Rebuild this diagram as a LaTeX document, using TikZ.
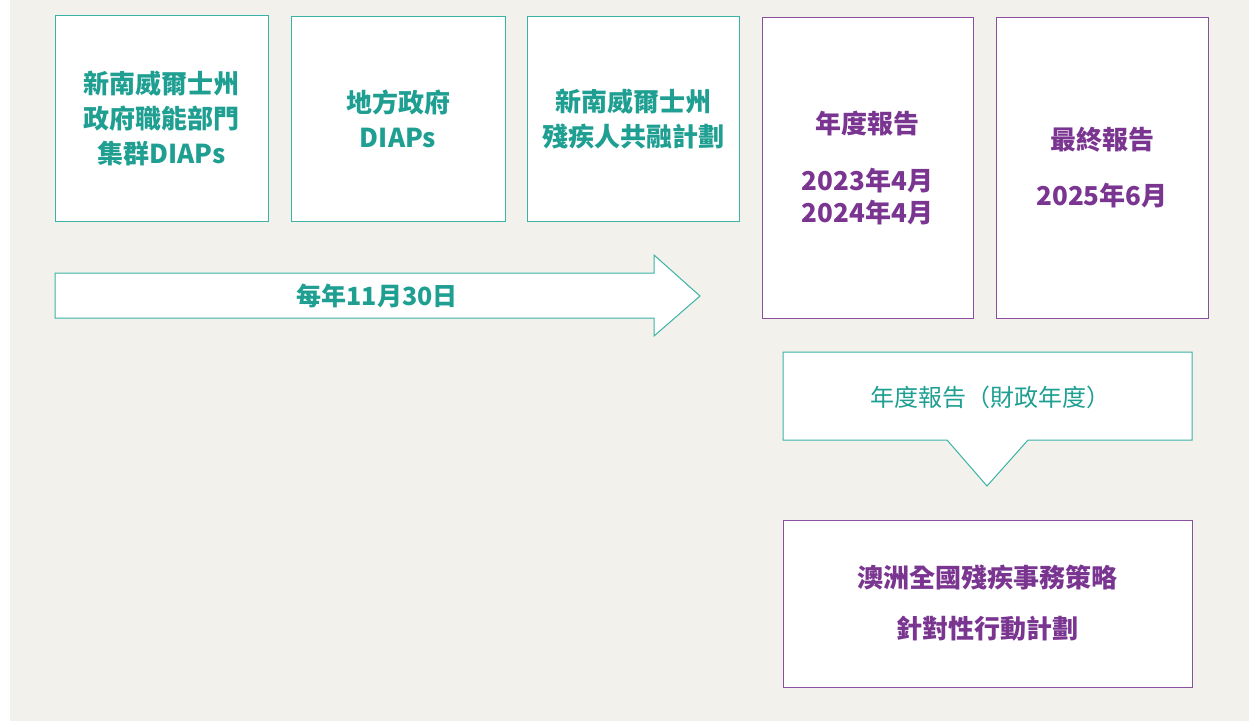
\documentclass[tikz,border=0pt]{standalone}
\usepackage{fontspec}
\newfontfamily\cjk{Noto Sans CJK TC}
\usetikzlibrary{positioning}
\definecolor{bgc}{HTML}{F3F1EC}
\definecolor{tealline}{HTML}{3AB3A6}
\definecolor{tealtext}{HTML}{1E9F92}
\definecolor{purpline}{HTML}{8C4E9E}
\definecolor{purptext}{HTML}{7A3591}
\tikzset{
  tealbox/.style={draw=tealline, fill=white, line width=1pt, inner sep=0pt, text=tealtext,
    font=\cjk\bfseries\fontsize{26}{35}\selectfont, align=center},
  purpbox/.style={draw=purpline, fill=white, line width=1pt, inner sep=0pt, text=purptext,
    font=\cjk\bfseries\fontsize{26}{32}\selectfont, align=center},
  plaintxt/.style={inner sep=0pt, align=center}
}
\begin{document}
\begin{tikzpicture}[x=1pt,y=-1pt]
\useasboundingbox (0,0) rectangle (1249,721);
\fill[white] (0,0) rectangle (1249,721);
\fill[bgc] (10,0) rectangle (1249,721);

\node[tealbox, minimum width=213pt, minimum height=206pt] (b1) at (161.5,118)
  {新南威爾士州\\政府職能部門\\集群DIAPs};
\node[tealbox, minimum width=214pt, minimum height=205pt] (b2) at (398,118.5)
  {地方政府\\DIAPs};
\node[tealbox, minimum width=212pt, minimum height=205pt] (b3) at (633,118.5)
  {新南威爾士州\\殘疾人共融計劃};
\node[purpbox, minimum width=211pt, minimum height=301pt] (b4) at (867.5,167.5)
  {年度報告\\[25pt]2023年4月\\2024年4月};
\node[purpbox, minimum width=212pt, minimum height=301pt] (b5) at (1102,167.5)
  {最終報告\\[24pt]2025年6月};
\node[purpbox, minimum width=409pt, minimum height=167pt] (b6) at (987.5,603.5)
  {澳洲全國殘疾事務策略\\[19pt]針對性行動計劃};

% arrow
\coordinate (atip) at (700,296);
\draw[draw=tealline, fill=white, line width=1pt, line join=miter]
  (55,273) -- (654,273) -- (654,255) -- (atip) -- (654,336) -- (654,318) -- (55,318) -- cycle;
\node[plaintxt, text=tealtext, font=\cjk\bfseries\fontsize{25}{30}\selectfont] (arrtxt) at (377,296) {每年11月30日};

% callout
\coordinate (ctip) at (987,486);
\draw[draw=tealline, fill=white, line width=1pt, line join=miter]
  (783,352) -- (1192,352) -- (1192,440) -- (1028,440) -- (ctip) -- (947,440) -- (783,440) -- cycle;
\node[plaintxt, text=tealtext, font=\cjk\fontsize{24}{30}\selectfont] (calltxt) at (990,397) {年度報告（財政年度）};
\end{tikzpicture}
\end{document}
